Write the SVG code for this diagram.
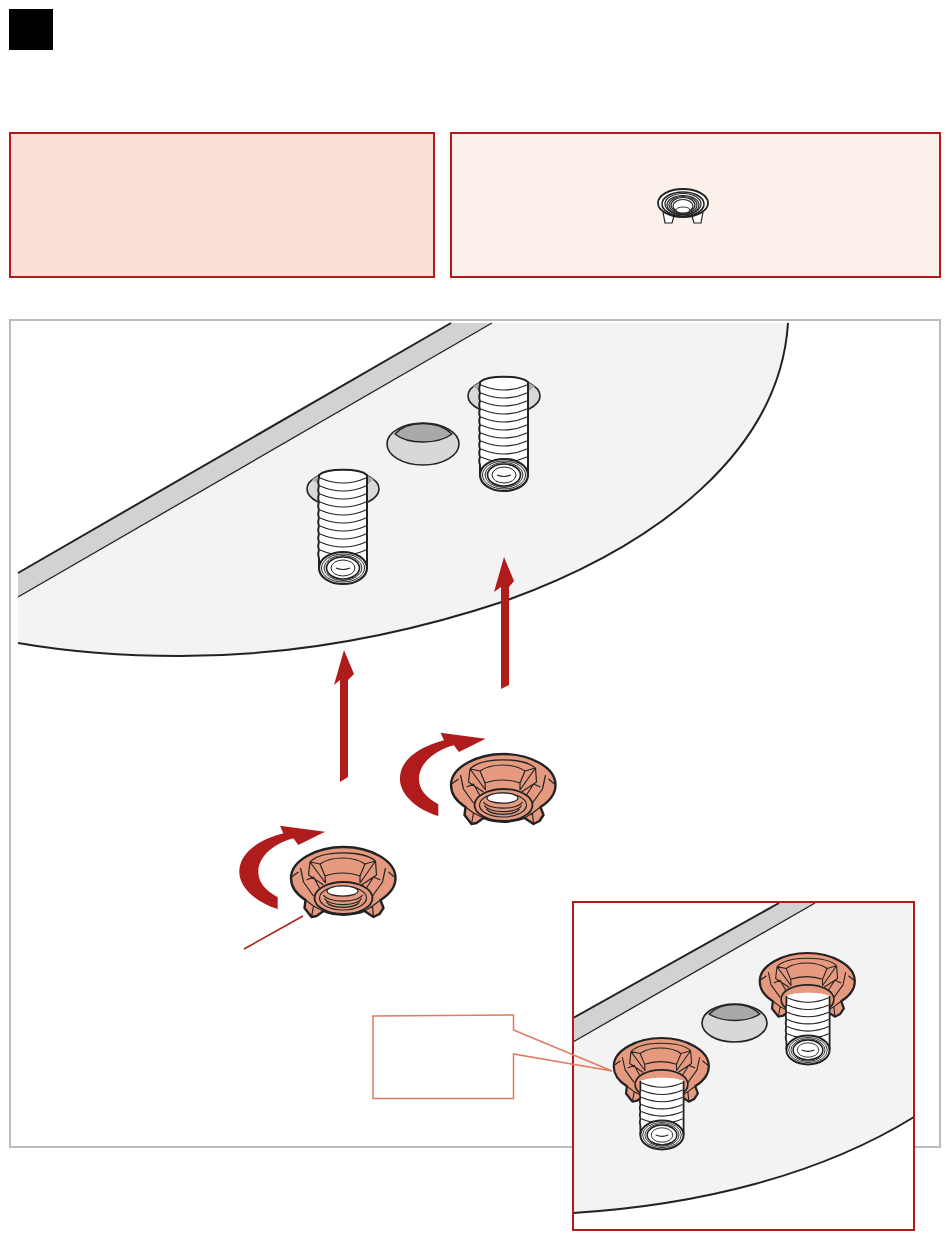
<svg xmlns="http://www.w3.org/2000/svg" xmlns:xlink="http://www.w3.org/1999/xlink" width="950" height="1241" viewBox="0 0 950 1241">
<style>
.plate{fill:#f3f3f3;stroke:none}
.strip{fill:#d2d2d2;stroke:none}
.edge{fill:none;stroke:#222;stroke-width:2}
.edge1{fill:none;stroke:#222;stroke-width:1.3}
.hole{fill:#d8d8d8;stroke:#222;stroke-width:1.6}
.holed{fill:#a9a9a9;stroke:#222;stroke-width:1.3}
.nut{fill:#e59a80;stroke:#222;stroke-width:2.4;stroke-linejoin:round}
.nl{fill:none;stroke:#222;stroke-width:1.2;stroke-linejoin:round}
.th{fill:none;stroke:#222;stroke-width:1.2}
.side{fill:none;stroke:#222;stroke-width:2;stroke-linejoin:round}
.red{fill:#b01c1c;stroke:none}
.box{stroke:#b01c1c;stroke-width:2}
</style>
<defs>
<g id="boltend">
<ellipse cx="0" cy="0" rx="24" ry="16" fill="#fff" stroke="#222" stroke-width="2.2"/>
<ellipse cx="0" cy="0" rx="21.500" ry="14" fill="#fff" stroke="#222" stroke-width="1"/>
<ellipse cx="0" cy="0" rx="19" ry="12.500" fill="#fff" stroke="#222" stroke-width="1"/>
<ellipse cx="0" cy="0" rx="16.500" ry="11" fill="#fff" stroke="#222" stroke-width="1.700"/>
<ellipse cx="0" cy="0" rx="12" ry="8" fill="#fff" stroke="#222" stroke-width="1"/>
<path class="th" d="M-7,0q7,3 14,0"/>
</g>
<g id="bolt">
<path d="M-24,0C-16,-6 16,-6 24,0V94H-24Z" fill="#fff" stroke="none"/>
<path class="th" d="M-23,4q23,10 46,0M-23,12q23,10 46,0M-23,20q23,10 46,0M-23,28q23,10 46,0M-23,36q23,10 46,0M-23,44q23,10 46,0M-23,52q23,10 46,0M-23,60q23,10 46,0M-23,68q23,10 46,0M-23,76q23,10 46,0"/>
<path class="side" d="M-24,94V84q-1.500,-4 0,-8q-1.500,-4 0,-8q-1.500,-4 0,-8q-1.500,-4 0,-8q-1.500,-4 0,-8q-1.500,-4 0,-8q-1.500,-4 0,-8q-1.500,-4 0,-8q-1.500,-4 0,-8q-1.500,-4 0,-8V1C-16,-6 16,-6 24,1V84V94"/>
<use xlink:href="#boltend" href="#boltend" y="94"/>
</g>
<g id="boltshort">
<path d="M-24,0C-16,-5 16,-5 24,0V60H-24Z" fill="#fff" stroke="none"/>
<path class="th" d="M-23,2q23,10 46,0M-23,10q23,10 46,0M-23,18q23,10 46,0M-23,26q23,10 46,0M-23,34q23,10 46,0M-23,42q23,10 46,0"/>
<path class="side" d="M-24,60V50q-1.500,-4 0,-8q-1.500,-4 0,-8q-1.500,-4 0,-8q-1.500,-4 0,-8q-1.500,-4 0,-8V0M24,60V0"/>
<use xlink:href="#boltend" href="#boltend" y="60"/>
</g>
<g id="nutbody">
<path class="nut" d="M-52.500,-2C-52.500,-20 -26,-33 0,-33C26,-33 52,-20 52,-2C52,7 45,15 37,20L40,28L36,34L30,37L21,31C8,36 -8,36 -20,31L-27,36L-32,37L-39,28L-38,20C-46,15 -52.500,7 -52.500,-2Z"/>
<path class="nl" d="M-33.500,-18C-22,-30 20,-30 32,-19M-23.500,-16C-12,-24 10,-24 21.500,-16M-18.500,-4C-8,-8 6,-8 16.500,-4M-33.500,-18L-23.500,-16L-18.500,-4L-18,3M32,-19L21.500,-16L16.500,-4L16.500,3M-33.500,-18L-18,3M32,-19L16.500,3M-33.500,-18L-35,-5L-20,5M32,-19L33,-5L18,5M-43,-12L-40,2L-30,16M42,-12L39,2L29,16M-37,0L-30,-3L-24,8M37,0L30,-3L23,8M-38,20L-30,26L-20,31M37,20L29,26L21,31M-32,37L-30,26M30,37L29,26M-52,-3L-45,-8M51,-3L45,-8"/>
<ellipse cx="0" cy="18" rx="29" ry="16" fill="#e59a80" stroke="#222" stroke-width="1.800"/>
</g>
<g id="nut">
<use xlink:href="#nutbody" href="#nutbody"/>
<ellipse cx="-.500" cy="18" rx="23.500" ry="12" fill="#e59a80" stroke="#222" stroke-width="1.200"/>
<path class="nl" d="M-20,15a20,8 0 0 0 39,0M-19,18.500a19,8 0 0 0 37,0M-17,22a17,7 0 0 0 33,0"/>
<ellipse cx="-1" cy="11" rx="15.500" ry="5.200" fill="#fff" stroke="#222" stroke-width="1.200"/>
</g>
<path id="turn" class="red" d="M277.700,909V897.300C265,890 258.300,882 258.300,871.700C258.300,856 275,843 293.300,838.300L298.300,845L325,831.700L280,825.700L283.300,833.300C258,840 239.300,853 239.300,871.700C239.300,887 255,902 277.700,909Z"/>
</defs>
<rect width="950" height="1241" fill="#fff"/>
<g id="step-badge"><rect x="9" y="9" width="44" height="41" fill="#000"/></g>
<g id="note-left"><rect class="box" x="10" y="133" width="424" height="144" fill="#fbe0d8"/></g>
<g id="note-right">
<rect class="box" x="451" y="133" width="489" height="144" fill="#fbf0ea"/>
<g id="icon-nut" fill="none" stroke="#222">
<path d="M663,212L665,223H672L674,216M703,212L701,223H694L692,216" stroke-width="1.200" fill="#fff"/>
<ellipse cx="683" cy="203" rx="25" ry="14" fill="#fff" stroke-width="1.800"/>
<ellipse cx="683" cy="204" rx="21" ry="12" stroke-width="1.600"/>
<ellipse cx="683" cy="204" rx="18" ry="10.500" stroke-width="1.200"/>
<ellipse cx="683" cy="205" rx="16" ry="9.500" stroke-width="1.200"/>
<ellipse cx="683" cy="205" rx="14" ry="8.500" stroke-width="1.200"/>
<ellipse cx="683" cy="205" rx="12" ry="7.500" stroke-width="1.200"/>
<ellipse cx="683" cy="206" rx="10" ry="6.500" stroke-width="1.200"/>
<ellipse cx="683" cy="210" rx="7" ry="3" fill="#fff" stroke-width=".9"/>
</g>
</g>
<g id="frame"><rect x="10" y="320" width="930" height="827" fill="#fff" stroke="#bcbcbc" stroke-width="2"/></g>
<g id="main-plate">
<path class="plate" d="M18,597L492,323H788C780,450 660,545 505,601C400,636 290,656 180,656C125,656 70,652 18,643Z"/>
<path class="strip" d="M18,573L451,323H492L18,597Z"/>
<path class="edge" d="M18,573L451,323"/>
<path class="edge1" d="M18,597L492,323"/>
<path class="edge" d="M788,323C780,450 660,545 505,601C400,636 290,656 180,656C125,656 70,652 18,643"/>
</g>
<g id="centre-hole">
<ellipse class="hole" cx="423" cy="444" rx="36" ry="21"/>
<path class="holed" d="M395,434C402,426 412,423.500 423,423.500C434,423.500 444,426 452,434C444,440 434,442 423,442C412,442 402,440 395,434Z"/>
</g>
<g id="bolt-left">
<ellipse class="hole" cx="343" cy="489" rx="36" ry="18"/>
<path fill="#a9a9a9" d="M312,479L320,475V486ZM374,479L366,475V486Z"/>
<use xlink:href="#bolt" href="#bolt" x="343" y="474"/>
</g>
<g id="bolt-right">
<ellipse class="hole" cx="504" cy="396" rx="36" ry="18"/>
<path fill="#a9a9a9" d="M473,386L481,382V393ZM535,386L527,382V393Z"/>
<use xlink:href="#bolt" href="#bolt" x="504" y="381"/>
</g>
<g id="nut-left"><use xlink:href="#nut" href="#nut" x="343.500" y="880"/></g>
<g id="nut-right"><use xlink:href="#nut" href="#nut" x="503.500" y="787"/></g>
<g id="inset">
<rect x="573" y="902" width="341" height="328" fill="#fff"/>
<path class="plate" d="M573,1042L815,903H914V1117C820,1175 700,1205 573,1213Z"/>
<path class="strip" d="M573,1018L779,903H815L573,1042Z"/>
<path class="edge" d="M573,1018L779,903"/>
<path class="edge1" d="M573,1042L815,903"/>
<path class="edge" d="M914,1117C820,1175 700,1205 573,1213"/>
<g id="inset-hole">
<ellipse class="hole" cx="734.500" cy="1023" rx="32.500" ry="19"/>
<path class="holed" d="M709,1014C716,1007 726,1004.500 735,1004.500C744,1004.500 753,1007 760,1014C752,1019 744,1020.500 735,1020.500C726,1020.500 717,1019 709,1014Z"/>
</g>
<g id="inset-nut-left">
<use xlink:href="#nutbody" href="#nutbody" transform="translate(661.500 1068) scale(.91)"/>
<use xlink:href="#boltshort" href="#boltshort" transform="translate(662 1081) scale(.9)"/>
</g>
<g id="inset-nut-right">
<use xlink:href="#nutbody" href="#nutbody" transform="translate(807.500 983) scale(.91)"/>
<use xlink:href="#boltshort" href="#boltshort" transform="translate(808 996) scale(.9)"/>
</g>
<rect x="573" y="902" width="341" height="328" fill="none" stroke="#b01c1c" stroke-width="2"/>
</g>
<g id="connectors">
<path class="red" d="M340,782V680L334,685L344,650L354,674L348,680V777Z"/>
<path class="red" d="M501,689V587L494,592L504,557L514,581L509,587V685Z"/>
<use xlink:href="#turn" href="#turn"/>
<use xlink:href="#turn" href="#turn" x="160.600" y="-93"/>
<path d="M244,949L303,916" fill="none" stroke="#b01c1c" stroke-width="1.500"/>
<path d="M373,1016L513.500,1015V1030L612,1071L513.500,1054V1098.500H373Z" fill="none" stroke="#e07a60" stroke-width="1.500"/>
</g>
</svg>
